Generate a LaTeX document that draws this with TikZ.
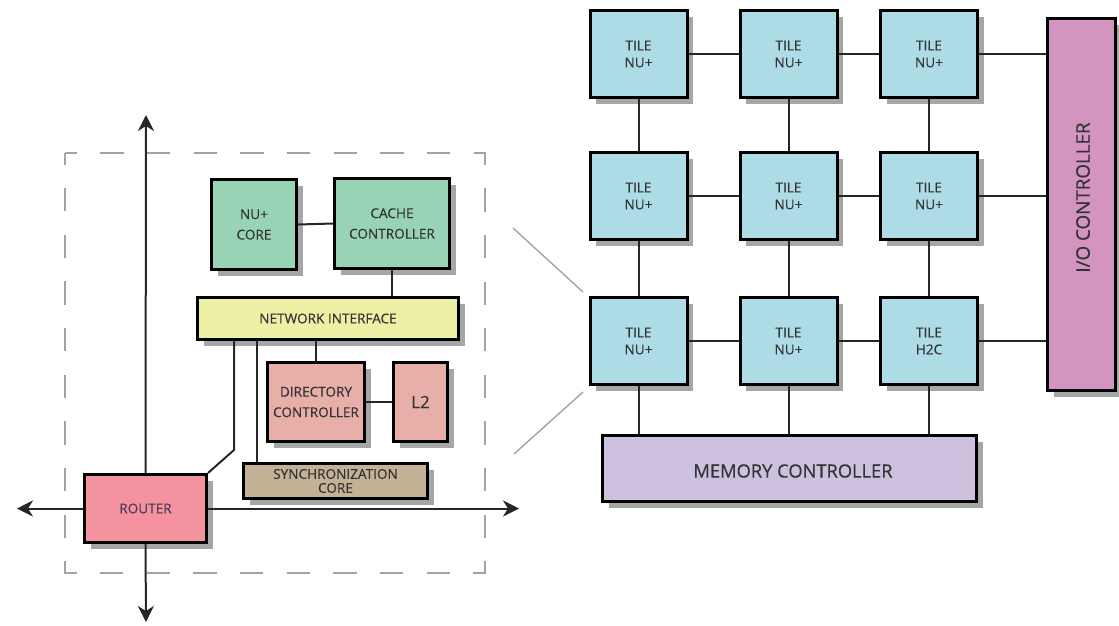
\documentclass[tikz,border=0pt]{standalone}
\usepackage{fontspec}
\setmainfont{Open Sans}[FakeBold=0.35]
\usetikzlibrary{shadows,arrows.meta}

\definecolor{tilecol}{HTML}{ADDCE7}
\definecolor{iocol}{HTML}{D494C0}
\definecolor{memcol}{HTML}{CDC1DF}
\definecolor{corecol}{HTML}{99D3B6}
\definecolor{nicol}{HTML}{EEF0A6}
\definecolor{dircol}{HTML}{E8AEA8}
\definecolor{synccol}{HTML}{C4B296}
\definecolor{routercol}{HTML}{F4929F}
\definecolor{shadowgray}{HTML}{A6A6A6}
\definecolor{textgray}{HTML}{333333}
\definecolor{framegray}{HTML}{A3A3A3}

\begin{document}
\begin{tikzpicture}[x=1pt,y=-1pt,
  box/.style={draw=black, line width=3pt, fill=#1, inner sep=0pt, align=center,
    text=textgray, font=\fontsize{13.6}{17}\selectfont,
    drop shadow={shadow xshift=6pt, shadow yshift=-6pt, fill=shadowgray, opacity=1}},
  tilebox/.style={box=tilecol, minimum width=97pt, minimum height=87pt},
  leftbox/.style={box=#1, font=\fontsize{13.6}{20.5}\selectfont},
  link/.style={line width=2pt, draw=black!85},
  axis/.style={line width=2pt, draw=black!85, -{Stealth[length=16pt, width=16pt, inset=5pt]}},
  zoomline/.style={line width=1.4pt, draw=framegray}
]
\useasboundingbox (0,0) rectangle (1119,625);

% ---------- tile mesh ----------
\node[tilebox] (t11) at (638.5,54) {TILE\\NU+};
\node[tilebox] (t12) at (788.5,54) {TILE\\NU+};
\node[tilebox] (t13) at (929,54)   {TILE\\NU+};
\node[tilebox] (t21) at (638.5,196) {TILE\\NU+};
\node[tilebox] (t22) at (788.5,196) {TILE\\NU+};
\node[tilebox] (t23) at (929,196)   {TILE\\NU+};
\node[tilebox] (t31) at (638.5,341) {TILE\\NU+};
\node[tilebox] (t32) at (788.5,341) {TILE\\NU+};
\node[tilebox] (t33) at (929,341)   {TILE\\H2C};

\node[box=iocol, minimum width=68pt, minimum height=372pt] (io) at (1081.5,204.5) {};
\node[rotate=90, text=textgray, font=\fontsize{18.8}{22}\selectfont] (iotext) at (1083,197.5) {I/O CONTROLLER};
\node[box=memcol, minimum width=374pt, minimum height=66pt] (mem) at (789.5,468.5) {};
\node[text=textgray, font=\fontsize{18.3}{22}\selectfont] (memtext) at (793,471) {MEMORY CONTROLLER};

% horizontal links
\foreach \r in {1,2,3}{
  \draw[link] (t\r1.east) -- (t\r2.west);
  \draw[link] (t\r2.east) -- (t\r3.west);
  \draw[link] (t\r3.east) -- (t\r3.east -| io.west);
}
% vertical links
\foreach \c in {1,2,3}{
  \draw[link] (t1\c.south) -- (t2\c.north);
  \draw[link] (t2\c.south) -- (t3\c.north);
  \draw[link] (t3\c.south) -- (t3\c.south |- mem.north);
}

% ---------- tile internals ----------
\draw[framegray, line width=1.5pt, dash pattern=on 23.33pt off 23.33pt, dash phase=11.67pt]
  (65,153) rectangle (485,573);

\node[leftbox=corecol, minimum width=85pt, minimum height=90pt] (core) at (254,224.5) {NU+\\CORE};
\node[leftbox=corecol, minimum width=115pt, minimum height=90pt] (cache) at (392,223.5) {CACHE\\CONTROLLER};
\node[box=nicol, minimum width=261pt, minimum height=42pt] (ni) at (328,318.5) {NETWORK INTERFACE};
\node[leftbox=dircol, minimum width=97pt, minimum height=79pt] (dir) at (316,402) {DIRECTORY\\CONTROLLER};
\node[box=dircol, minimum width=54pt, minimum height=79pt, font=\fontsize{17}{20}\selectfont] (l2) at (420.5,402) {L2};
\node[box=synccol, minimum width=184pt, minimum height=35pt, font=\fontsize{13.6}{14}\selectfont] (sync) at (335.5,481) {SYNCHRONIZATION\\CORE};
\node[box=routercol, minimum width=122pt, minimum height=68pt] (router) at (145.5,508.5) {\textcolor[HTML]{4A3C56}{ROUTER}};

\draw[link] (core.east) -- (cache.west);
\draw[link] (cache.south) -- (cache.south |- ni.north);
\draw[link] (dir.north |- ni.south) -- (dir.north);
\draw[link] (dir.east) -- (l2.west);

\coordinate (synctap) at (257,0);
\draw[link] (ni.south -| synctap) -- (sync.north -| synctap);
\coordinate (bend) at (234,450);
\draw[link] (ni.south -| bend) -- (bend) -- (router.north east);

% router axes
\coordinate (north) at (146,115);
\coordinate (south) at (146,622);
\coordinate (west)  at (17,508.5);
\coordinate (east)  at (519,508.5);
\draw[axis] (router.north) -- (north);
\draw[axis] (router.south) -- (south);
\draw[axis] (router.west) -- (west);
\draw[axis] (router.east) -- (east);

% zoom lines towards the magnified tile
\coordinate (z1) at (513,228);
\coordinate (z2) at (583,292);
\coordinate (z3) at (583,392);
\coordinate (z4) at (514,454);
\draw[zoomline] (z1) -- (z2);
\draw[zoomline] (z3) -- (z4);
\end{tikzpicture}
\end{document}
